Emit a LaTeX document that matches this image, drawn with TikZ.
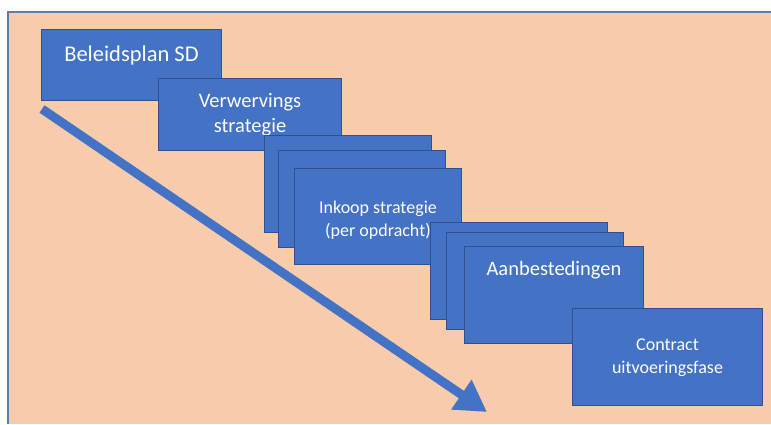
\documentclass[tikz,border=0pt]{standalone}
\usepackage{fontspec}
\setmainfont{Carlito}
\usetikzlibrary{arrows.meta}
\definecolor{perzik}{HTML}{F8CBAD}
\definecolor{kader}{HTML}{5F7BB0}
\definecolor{blok}{HTML}{4472C4}
\definecolor{blokrand}{HTML}{2F528F}
\begin{document}
\begin{tikzpicture}[x=1pt, y=-1pt,
   blok/.style={draw=blokrand, fill=blok, line width=1pt, anchor=north west, inner sep=0pt},
   tekst/.style={anchor=north, inner sep=0pt, text=white, align=center, yshift=-15.5pt,
      font=\fontsize{20.5}{25}\selectfont},
   kleintekst/.style={tekst, yshift=-17pt, font=\fontsize{18}{23}\selectfont},
   pijl/.style={blok, draw=blok, line width=9pt, -{Triangle[length=31pt, width=34pt]}}]
   \useasboundingbox (0,0) rectangle (771,424);
   \fill[perzik] (7.5,11.5) rectangle (771,424);   % achtergrond
   \draw[kader, line width=2pt] (7.5,424) -- (7.5,11.5) -- (771,11.5);
   \coordinate (start) at (42,109);
   \coordinate (eind) at (487,412);
   \draw[pijl] (start) -- (eind);
   % beleid en verwerving
   \node[blok, minimum width=180, minimum height=71,
      label={[tekst, yshift=-1pt, font=\fontsize{22.5}{27}\selectfont]north:{Beleidsplan SD}}] (beleid) at (41,29) {};
   \node[blok, minimum width=183, minimum height=72,
      label={[tekst]north:{Verwervings\\strategie}}] (verwerving) at (158,78) {};
   % inkoop, drie lagen
   \node[blok, minimum width=167, minimum height=97] (inkoop1) at (264,135) {};
   \node[blok, minimum width=167, minimum height=97] (inkoop2) at (278,150) {};
   \node[blok, minimum width=167, minimum height=96,
      label={[kleintekst]north:{Inkoop strategie\\(per opdracht)}}] (inkoop3) at (294,168) {};
   % aanbesteding, drie lagen
   \node[blok, minimum width=177, minimum height=97] (aanbest1) at (430,222) {};
   \node[blok, minimum width=177, minimum height=97] (aanbest2) at (446,232) {};
   \node[blok, minimum width=179, minimum height=97,
      label={[tekst]north:{Aanbestedingen}}] (aanbest3) at (464,246) {};
   \node[blok, minimum width=190, minimum height=97,
      label={[kleintekst, yshift=2pt]north:{Contract\\uitvoeringsfase}}] (contract) at (572,308) {};
\end{tikzpicture}
\end{document}
